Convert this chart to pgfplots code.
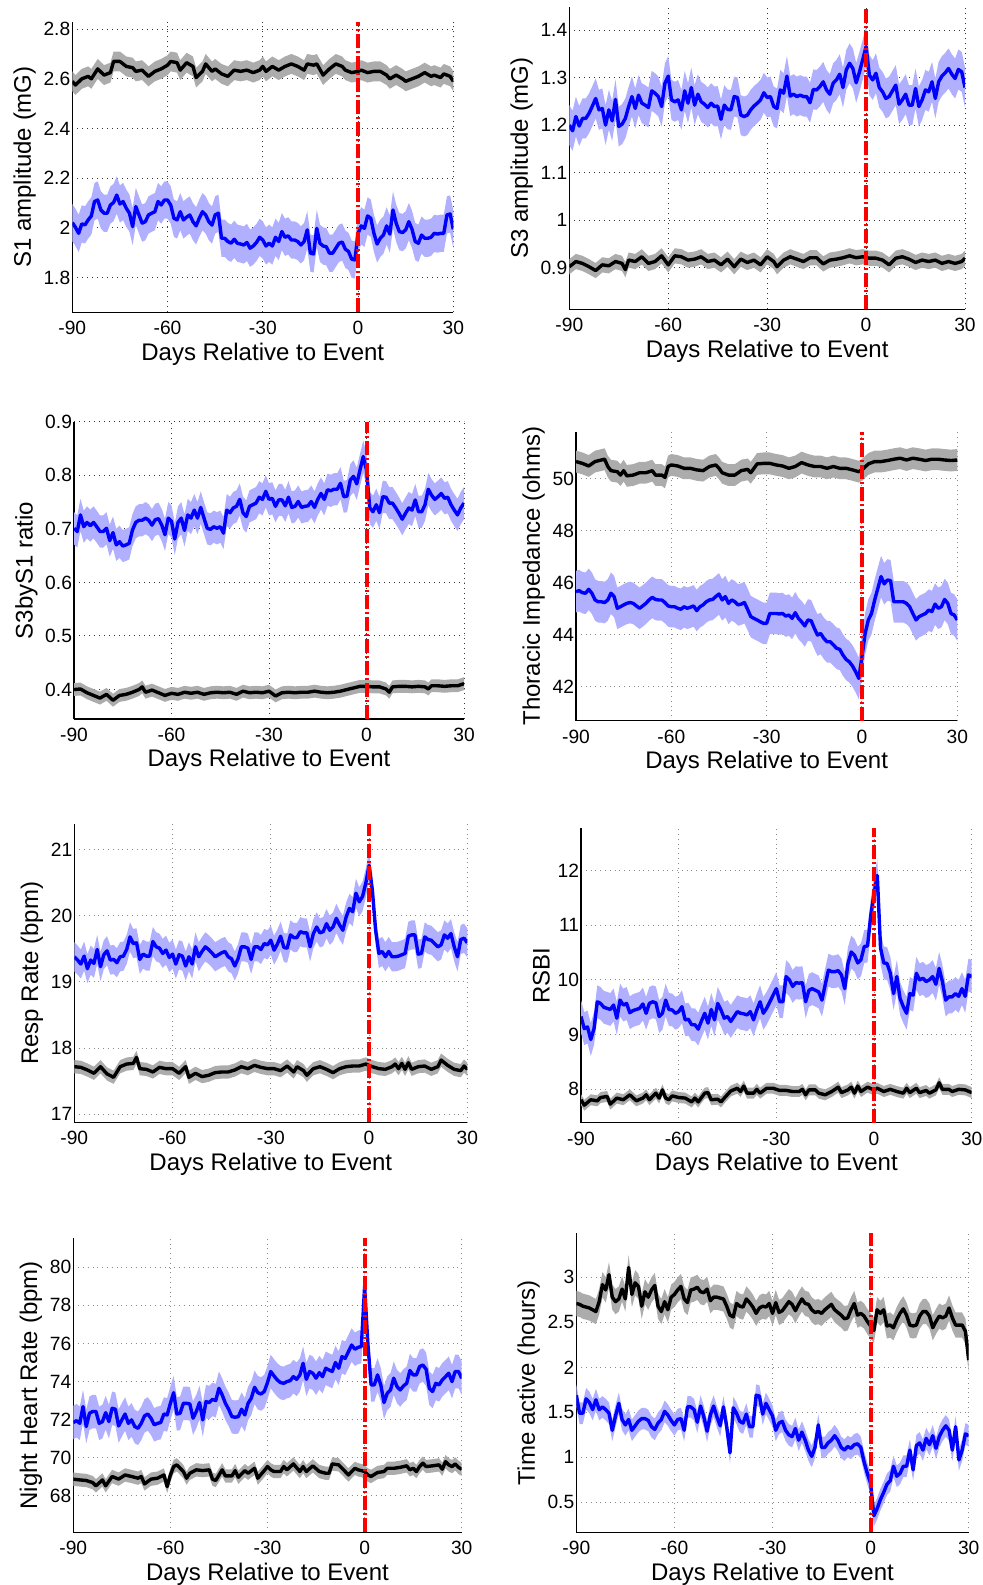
\documentclass[border=0pt]{standalone}
\usepackage{pgfplots}
\pgfplotsset{compat=1.18}
\usepackage{pgfplotstable}
\usepgfplotslibrary{fillbetween}
\usepackage{fontspec}
\setmainfont{Liberation Sans}

\definecolor{bandblue}{RGB}{176,176,255}
\definecolor{bandgray}{RGB}{172,172,172}

% S1 amplitude
\pgfplotstableread[row sep=\\]{x y\\
-90 2.59\\ -89 2.575\\ -87 2.60\\ -85 2.61\\ -84 2.60\\ -82 2.64\\ -80 2.615\\ -78 2.625\\ -77 2.67\\ -75 2.67\\
-73 2.65\\ -71 2.645\\ -70 2.63\\ -68 2.635\\ -66 2.61\\ -64 2.63\\ -62 2.64\\ -60 2.655\\ -59 2.67\\ -57 2.665\\
-56 2.635\\ -54 2.665\\ -52 2.65\\ -51 2.605\\ -49 2.63\\ -48 2.66\\ -46 2.63\\ -45 2.64\\ -43 2.62\\ -41 2.61\\
-39 2.635\\ -37 2.63\\ -35 2.635\\ -33 2.625\\ -31 2.635\\ -30 2.65\\ -29 2.63\\ -27 2.65\\ -25 2.635\\ -23 2.65\\
-21 2.66\\ -19 2.65\\ -17 2.635\\ -16 2.66\\ -14 2.655\\ -13 2.66\\ -11 2.615\\ -9 2.64\\ -7 2.66\\ -5 2.65\\
-4 2.635\\ -2 2.625\\ 0 2.63\\ 1 2.635\\ 3 2.625\\ 5 2.63\\ 7 2.63\\ 9 2.615\\ 10 2.60\\ 12 2.615\\
14 2.60\\ 15 2.59\\ 17 2.60\\ 19 2.61\\ 21 2.625\\ 23 2.61\\ 24 2.615\\ 26 2.605\\ 27 2.62\\ 29 2.61\\ 30 2.59\\
}\pAk
\pgfplotstableread[row sep=\\]{x y\\
-90 2.021\\ -89 2.002\\ -88 1.978\\ -87 2.016\\ -86 2.012\\ -85 2.032\\ -84 2.048\\ -83 2.106\\ -82 2.112\\ -81 2.072\\
-80 2.059\\ -79 2.059\\ -78 2.092\\ -77 2.102\\ -76 2.132\\ -75 2.096\\ -74 2.106\\ -73 2.079\\ -72 2.059\\ -71 2.005\\
-70 2.086\\ -69 2.052\\ -68 2.019\\ -67 2.025\\ -66 2.052\\ -65 2.059\\ -64 2.065\\ -63 2.106\\ -62 2.092\\ -61 2.112\\
-60 2.112\\ -59 2.092\\ -58 2.039\\ -57 2.032\\ -56 2.065\\ -55 2.032\\ -54 2.043\\ -53 2.052\\ -52 2.025\\ -51 2.008\\
-50 2.039\\ -49 2.065\\ -48 2.052\\ -47 2.025\\ -46 2.011\\ -45 2.052\\ -44 2.059\\ -43 1.958\\ -42 1.958\\ -41 1.945\\
-40 1.938\\ -39 1.954\\ -38 1.938\\ -37 1.935\\ -36 1.931\\ -35 1.941\\ -34 1.918\\ -33 1.927\\ -32 1.941\\ -31 1.962\\
-30 1.951\\ -29 1.927\\ -28 1.938\\ -27 1.927\\ -26 1.962\\ -25 1.945\\ -24 1.985\\ -23 1.962\\ -22 1.968\\ -21 1.951\\
-20 1.951\\ -19 1.945\\ -18 1.931\\ -17 1.945\\ -16 1.992\\ -15 1.898\\ -14 1.895\\ -13 1.998\\ -12 1.938\\ -11 1.927\\
-10 1.924\\ -9 1.898\\ -8 1.898\\ -7 1.918\\ -6 1.938\\ -5 1.943\\ -4 1.914\\ -3 1.905\\ -2 1.874\\ -1 1.871\\
0 1.978\\ 1 2.008\\ 2 1.998\\ 3 2.048\\ 4 2.039\\ 5 1.978\\ 6 1.935\\ 7 1.958\\ 8 1.971\\ 9 2.008\\
10 1.975\\ 11 2.072\\ 12 2.019\\ 13 1.985\\ 14 1.981\\ 15 1.992\\ 16 2.025\\ 17 1.994\\ 18 1.945\\ 19 1.938\\
20 1.971\\ 21 1.958\\ 22 1.958\\ 23 1.962\\ 24 1.978\\ 25 1.975\\ 26 1.978\\ 27 1.978\\ 28 2.052\\ 29 2.056\\ 30 1.994\\
}\pAb

% S3 amplitude
\pgfplotstableread[row sep=\\]{x y\\
-90 0.902\\ -88 0.913\\ -86 0.909\\ -84 0.902\\ -82 0.894\\ -80 0.906\\ -78 0.904\\ -76 0.913\\ -74 0.909\\ -73 0.896\\
-72 0.916\\ -70 0.913\\ -68 0.923\\ -66 0.909\\ -64 0.913\\ -62 0.925\\ -60 0.906\\ -58 0.925\\ -56 0.923\\ -54 0.916\\
-52 0.918\\ -50 0.923\\ -48 0.913\\ -46 0.916\\ -44 0.906\\ -42 0.918\\ -40 0.902\\ -38 0.918\\ -36 0.911\\ -34 0.916\\
-32 0.906\\ -30 0.923\\ -28 0.913\\ -27 0.902\\ -25 0.916\\ -23 0.923\\ -21 0.918\\ -19 0.913\\ -17 0.921\\ -15 0.921\\
-13 0.908\\ -11 0.916\\ -9 0.918\\ -7 0.921\\ -5 0.925\\ -3 0.921\\ -1 0.923\\ 1 0.920\\ 3 0.920\\ 5 0.916\\
7 0.906\\ 9 0.920\\ 11 0.923\\ 13 0.918\\ 15 0.911\\ 17 0.916\\ 19 0.913\\ 21 0.916\\ 23 0.909\\ 25 0.913\\
27 0.909\\ 29 0.913\\ 30 0.920\\
}\pBk
\pgfplotstableread[row sep=\\]{x y\\
-90 1.200\\ -89 1.188\\ -88 1.218\\ -87 1.198\\ -86 1.214\\ -85 1.214\\ -84 1.225\\ -83 1.240\\ -82 1.256\\ -81 1.232\\
-80 1.235\\ -79 1.200\\ -78 1.232\\ -77 1.209\\ -76 1.254\\ -75 1.197\\ -74 1.202\\ -73 1.214\\ -72 1.239\\ -71 1.260\\
-70 1.235\\ -69 1.263\\ -68 1.246\\ -67 1.242\\ -66 1.237\\ -65 1.272\\ -64 1.267\\ -63 1.260\\ -62 1.239\\ -61 1.288\\
-60 1.303\\ -59 1.253\\ -58 1.249\\ -57 1.253\\ -56 1.232\\ -55 1.272\\ -54 1.246\\ -53 1.279\\ -52 1.242\\ -51 1.265\\
-50 1.249\\ -49 1.244\\ -48 1.237\\ -47 1.246\\ -46 1.239\\ -45 1.240\\ -44 1.212\\ -43 1.242\\ -42 1.233\\ -41 1.232\\
-40 1.260\\ -39 1.258\\ -38 1.221\\ -37 1.218\\ -36 1.221\\ -35 1.232\\ -34 1.240\\ -33 1.246\\ -32 1.253\\ -31 1.268\\
-30 1.258\\ -29 1.260\\ -28 1.239\\ -27 1.235\\ -26 1.274\\ -25 1.267\\ -24 1.303\\ -23 1.261\\ -22 1.265\\ -21 1.260\\
-20 1.263\\ -19 1.260\\ -18 1.260\\ -17 1.247\\ -16 1.275\\ -15 1.274\\ -14 1.281\\ -13 1.291\\ -12 1.274\\ -11 1.265\\
-10 1.288\\ -9 1.295\\ -8 1.307\\ -7 1.279\\ -6 1.316\\ -5 1.330\\ -4 1.319\\ -3 1.289\\ -2 1.312\\ -1 1.338\\
0 1.365\\ 1 1.305\\ 2 1.295\\ 3 1.309\\ 4 1.279\\ 5 1.270\\ 6 1.256\\ 7 1.260\\ 8 1.272\\ 9 1.284\\
10 1.244\\ 11 1.253\\ 12 1.265\\ 13 1.242\\ 14 1.242\\ 15 1.277\\ 16 1.239\\ 17 1.253\\ 18 1.274\\ 19 1.270\\
20 1.291\\ 21 1.256\\ 22 1.291\\ 23 1.303\\ 24 1.310\\ 25 1.319\\ 26 1.307\\ 27 1.298\\ 28 1.317\\ 29 1.312\\ 30 1.279\\
}\pBb

% S3byS1 ratio
\pgfplotstableread[row sep=\\]{x y\\
-90 0.400\\ -88 0.401\\ -86 0.394\\ -84 0.389\\ -82 0.384\\ -80 0.391\\ -78 0.380\\ -76 0.389\\ -74 0.391\\ -72 0.395\\
-70 0.400\\ -69 0.405\\ -68 0.395\\ -66 0.399\\ -64 0.394\\ -62 0.389\\ -60 0.393\\ -58 0.391\\ -56 0.395\\ -54 0.393\\
-52 0.395\\ -50 0.391\\ -48 0.394\\ -46 0.395\\ -44 0.394\\ -42 0.395\\ -40 0.391\\ -38 0.397\\ -36 0.394\\ -34 0.395\\
-32 0.394\\ -30 0.397\\ -28 0.388\\ -26 0.394\\ -24 0.395\\ -22 0.394\\ -20 0.395\\ -18 0.395\\ -16 0.397\\ -14 0.395\\
-12 0.394\\ -10 0.395\\ -8 0.397\\ -6 0.400\\ -4 0.403\\ -2 0.406\\ 0 0.406\\ 2 0.405\\ 4 0.405\\ 6 0.401\\
7 0.395\\ 8 0.405\\ 10 0.406\\ 12 0.406\\ 14 0.405\\ 16 0.406\\ 18 0.405\\ 19 0.401\\ 20 0.407\\ 22 0.407\\
24 0.406\\ 26 0.407\\ 28 0.407\\ 29 0.409\\ 30 0.411\\
}\pCk
\pgfplotstableread[row sep=\\]{x y\\
-90 0.701\\ -89 0.695\\ -88 0.726\\ -87 0.704\\ -86 0.712\\ -85 0.706\\ -84 0.712\\ -83 0.704\\ -82 0.695\\ -81 0.695\\
-80 0.701\\ -79 0.678\\ -78 0.693\\ -77 0.670\\ -76 0.676\\ -75 0.668\\ -74 0.670\\ -73 0.673\\ -72 0.698\\ -71 0.712\\
-70 0.716\\ -69 0.716\\ -68 0.720\\ -67 0.716\\ -66 0.707\\ -65 0.717\\ -64 0.719\\ -63 0.707\\ -62 0.689\\ -61 0.720\\
-60 0.714\\ -59 0.681\\ -58 0.712\\ -57 0.720\\ -56 0.697\\ -55 0.726\\ -54 0.720\\ -53 0.735\\ -52 0.720\\ -51 0.740\\
-50 0.720\\ -49 0.701\\ -48 0.699\\ -47 0.704\\ -46 0.701\\ -45 0.704\\ -44 0.692\\ -43 0.735\\ -42 0.730\\ -41 0.739\\
-40 0.742\\ -39 0.755\\ -38 0.730\\ -37 0.723\\ -36 0.742\\ -35 0.745\\ -34 0.748\\ -33 0.759\\ -32 0.755\\ -31 0.770\\
-30 0.755\\ -29 0.757\\ -28 0.742\\ -27 0.754\\ -26 0.754\\ -25 0.743\\ -24 0.759\\ -23 0.740\\ -22 0.742\\ -21 0.751\\
-20 0.740\\ -19 0.742\\ -18 0.743\\ -17 0.751\\ -16 0.740\\ -15 0.755\\ -14 0.766\\ -13 0.755\\ -12 0.773\\ -11 0.771\\
-10 0.774\\ -9 0.774\\ -8 0.785\\ -7 0.760\\ -6 0.761\\ -5 0.791\\ -4 0.798\\ -3 0.784\\ -2 0.810\\ -1 0.835\\
0 0.810\\ 1 0.739\\ 2 0.732\\ 3 0.745\\ 4 0.730\\ 5 0.760\\ 6 0.759\\ 7 0.748\\ 8 0.748\\ 9 0.739\\
10 0.729\\ 11 0.718\\ 12 0.729\\ 13 0.739\\ 14 0.735\\ 15 0.754\\ 16 0.732\\ 17 0.732\\ 18 0.745\\ 19 0.774\\
20 0.763\\ 21 0.755\\ 22 0.760\\ 23 0.766\\ 24 0.757\\ 25 0.759\\ 26 0.745\\ 27 0.735\\ 28 0.726\\ 29 0.739\\ 30 0.748\\
}\pCb

% Thoracic impedance
\pgfplotstableread[row sep=\\]{x y\\
-90 50.67\\ -88 50.60\\ -86 50.50\\ -84 50.67\\ -82 50.73\\ -81 50.76\\ -80 50.48\\ -79 50.32\\ -77 50.28\\ -76 50.15\\
-75 50.32\\ -74 50.12\\ -72 50.15\\ -70 50.24\\ -68 50.24\\ -66 50.32\\ -65 50.15\\ -63 50.15\\ -62 50.06\\ -61 50.48\\
-60 50.54\\ -58 50.50\\ -56 50.41\\ -54 50.41\\ -52 50.35\\ -50 50.32\\ -48 50.48\\ -46 50.54\\ -45 50.41\\ -44 50.24\\
-42 50.15\\ -40 50.15\\ -38 50.32\\ -36 50.37\\ -35 50.24\\ -33 50.58\\ -31 50.60\\ -29 50.60\\ -27 50.54\\ -25 50.50\\
-23 50.41\\ -21 50.48\\ -19 50.63\\ -17 50.54\\ -15 50.48\\ -13 50.48\\ -11 50.41\\ -9 50.48\\ -7 50.41\\ -5 50.41\\
-3 50.35\\ -1 50.28\\ 0 50.35\\ 2 50.58\\ 4 50.67\\ 6 50.67\\ 8 50.71\\ 10 50.76\\ 12 50.80\\ 14 50.73\\
16 50.80\\ 18 50.76\\ 20 50.71\\ 22 50.76\\ 24 50.76\\ 26 50.73\\ 28 50.71\\ 30 50.73\\
}\pDk
\pgfplotstableread[row sep=\\]{x y\\
-90 45.66\\ -89 45.70\\ -88 45.62\\ -87 45.60\\ -86 45.75\\ -85 45.60\\ -84 45.34\\ -83 45.27\\ -82 45.27\\ -81 45.24\\
-80 45.34\\ -79 45.60\\ -78 45.47\\ -77 45.02\\ -76 45.08\\ -75 45.15\\ -74 45.21\\ -73 45.24\\ -72 45.21\\ -71 45.11\\
-70 45.02\\ -69 45.11\\ -68 45.21\\ -67 45.34\\ -66 45.44\\ -65 45.36\\ -64 45.34\\ -63 45.34\\ -62 45.24\\ -61 45.11\\
-60 45.08\\ -59 45.08\\ -58 45.02\\ -57 44.98\\ -56 45.08\\ -55 45.02\\ -54 45.06\\ -53 45.11\\ -52 44.93\\ -51 45.08\\
-50 45.15\\ -49 45.27\\ -48 45.34\\ -47 45.36\\ -46 45.47\\ -45 45.57\\ -44 45.34\\ -43 45.47\\ -42 45.21\\ -41 45.34\\
-40 45.27\\ -39 45.15\\ -38 45.18\\ -37 45.24\\ -36 44.98\\ -35 44.70\\ -34 44.63\\ -33 44.57\\ -32 44.50\\ -31 44.44\\
-30 44.44\\ -29 44.82\\ -28 44.82\\ -27 44.82\\ -26 44.80\\ -25 44.82\\ -24 44.72\\ -23 44.76\\ -22 44.63\\ -21 44.85\\
-20 44.63\\ -19 44.50\\ -18 44.34\\ -17 44.57\\ -16 44.54\\ -15 44.25\\ -14 43.99\\ -13 44.05\\ -12 43.86\\ -11 43.73\\
-10 43.73\\ -9 43.61\\ -8 43.48\\ -7 43.44\\ -6 43.22\\ -5 43.05\\ -4 42.96\\ -3 42.80\\ -2 42.58\\ -1 42.32\\
0 43.16\\ 1 44.05\\ 2 44.57\\ 3 44.82\\ 4 45.34\\ 5 45.79\\ 6 46.24\\ 7 45.96\\ 8 46.11\\ 9 46.08\\
10 45.27\\ 11 45.27\\ 12 45.27\\ 13 45.27\\ 14 45.21\\ 15 45.08\\ 16 44.82\\ 17 44.57\\ 18 44.70\\ 19 44.76\\
20 44.82\\ 21 44.95\\ 22 44.89\\ 23 45.18\\ 24 45.02\\ 25 45.08\\ 26 45.36\\ 27 45.21\\ 28 44.82\\ 29 44.76\\ 30 44.57\\
}\pDb

% Resp rate
\pgfplotstableread[row sep=\\]{x y\\
-90 17.72\\ -88 17.71\\ -86 17.67\\ -84 17.62\\ -82 17.72\\ -80 17.61\\ -78 17.56\\ -76 17.72\\ -74 17.76\\ -72 17.77\\
-71 17.86\\ -70 17.69\\ -68 17.68\\ -66 17.64\\ -64 17.71\\ -62 17.69\\ -60 17.69\\ -58 17.62\\ -56 17.72\\ -55 17.56\\
-53 17.62\\ -51 17.57\\ -49 17.59\\ -47 17.63\\ -45 17.64\\ -43 17.64\\ -41 17.67\\ -39 17.72\\ -37 17.69\\ -35 17.74\\
-33 17.71\\ -31 17.69\\ -29 17.69\\ -27 17.66\\ -25 17.73\\ -23 17.64\\ -22 17.72\\ -20 17.66\\ -19 17.59\\ -17 17.69\\
-15 17.72\\ -13 17.68\\ -11 17.63\\ -9 17.69\\ -7 17.72\\ -5 17.73\\ -3 17.73\\ -1 17.76\\ 1 17.72\\ 3 17.69\\
5 17.68\\ 7 17.72\\ 8 17.76\\ 9 17.69\\ 10 17.77\\ 11 17.68\\ 12 17.78\\ 13 17.68\\ 15 17.72\\ 17 17.73\\
19 17.68\\ 21 17.72\\ 22 17.82\\ 24 17.74\\ 26 17.68\\ 28 17.66\\ 29 17.73\\ 30 17.68\\
}\pEk
\pgfplotstableread[row sep=\\]{x y\\
-90 19.38\\ -89 19.33\\ -88 19.27\\ -87 19.39\\ -86 19.20\\ -85 19.33\\ -84 19.28\\ -83 19.49\\ -82 19.23\\ -81 19.41\\
-80 19.47\\ -79 19.33\\ -78 19.34\\ -77 19.29\\ -76 19.38\\ -75 19.39\\ -74 19.49\\ -73 19.68\\ -72 19.58\\ -71 19.59\\
-70 19.34\\ -69 19.42\\ -68 19.39\\ -67 19.39\\ -66 19.61\\ -65 19.53\\ -64 19.51\\ -63 19.43\\ -62 19.48\\ -61 19.37\\
-60 19.42\\ -59 19.27\\ -58 19.41\\ -57 19.39\\ -56 19.24\\ -55 19.38\\ -54 19.27\\ -53 19.53\\ -52 19.38\\ -51 19.46\\
-50 19.53\\ -49 19.49\\ -48 19.44\\ -47 19.38\\ -46 19.41\\ -45 19.44\\ -44 19.46\\ -43 19.38\\ -42 19.35\\ -41 19.24\\
-40 19.35\\ -39 19.53\\ -38 19.53\\ -37 19.51\\ -36 19.34\\ -35 19.53\\ -34 19.53\\ -33 19.49\\ -32 19.58\\ -31 19.56\\
-30 19.63\\ -29 19.48\\ -28 19.57\\ -27 19.69\\ -26 19.52\\ -25 19.51\\ -24 19.71\\ -23 19.67\\ -22 19.67\\ -21 19.76\\
-20 19.74\\ -19 19.74\\ -18 19.53\\ -17 19.73\\ -16 19.83\\ -15 19.74\\ -14 19.76\\ -13 19.88\\ -12 19.78\\ -11 19.83\\
-10 19.96\\ -9 19.86\\ -8 19.78\\ -7 19.98\\ -6 20.11\\ -5 20.06\\ -4 20.34\\ -3 20.21\\ -2 20.29\\ -1 20.49\\
0 20.76\\ 1 20.39\\ 2 19.78\\ 3 19.43\\ 4 19.46\\ 5 19.38\\ 6 19.46\\ 7 19.38\\ 8 19.38\\ 9 19.39\\
10 19.41\\ 11 19.43\\ 12 19.69\\ 13 19.71\\ 14 19.71\\ 15 19.42\\ 16 19.43\\ 17 19.68\\ 18 19.64\\ 19 19.63\\
20 19.58\\ 21 19.53\\ 22 19.56\\ 23 19.71\\ 24 19.66\\ 25 19.73\\ 26 19.53\\ 27 19.38\\ 28 19.64\\ 29 19.66\\ 30 19.59\\
}\pEb

% RSBI
\pgfplotstableread[row sep=\\]{x y\\
-90 7.81\\ -89 7.71\\ -87 7.81\\ -85 7.79\\ -84 7.85\\ -82 7.87\\ -81 7.73\\ -79 7.84\\ -77 7.81\\ -75 7.90\\
-73 7.79\\ -71 7.84\\ -70 7.90\\ -69 7.81\\ -67 7.93\\ -66 7.84\\ -65 7.99\\ -64 7.84\\ -63 7.81\\ -62 7.88\\
-60 7.85\\ -58 7.84\\ -56 7.77\\ -55 7.84\\ -54 7.77\\ -52 7.93\\ -51 7.94\\ -50 7.81\\ -48 7.82\\ -47 7.77\\
-46 7.84\\ -44 7.97\\ -42 8.02\\ -41 7.96\\ -40 8.06\\ -39 7.93\\ -37 7.93\\ -36 8.00\\ -35 7.93\\ -33 8.02\\
-31 8.02\\ -29 7.98\\ -27 7.98\\ -25 7.96\\ -23 7.96\\ -22 8.00\\ -21 7.90\\ -20 7.99\\ -18 7.99\\ -17 7.93\\
-15 7.90\\ -13 7.96\\ -11 8.04\\ -10 7.94\\ -8 7.99\\ -7 8.04\\ -6 7.93\\ -5 8.06\\ -4 7.96\\ -2 8.04\\
0 7.99\\ 1 8.02\\ 3 7.96\\ 5 8.00\\ 7 7.96\\ 9 7.93\\ 10 8.02\\ 11 7.94\\ 13 8.02\\ 14 7.94\\
16 7.98\\ 17 7.93\\ 19 7.99\\ 20 8.12\\ 21 8.00\\ 23 8.00\\ 24 7.96\\ 26 8.00\\ 28 7.99\\ 30 7.94\\
}\pFk
\pgfplotstableread[row sep=\\]{x y\\
-90 9.33\\ -89 9.11\\ -88 9.14\\ -87 8.91\\ -86 9.11\\ -85 9.60\\ -84 9.57\\ -83 9.50\\ -82 9.48\\ -81 9.46\\
-80 9.54\\ -79 9.30\\ -78 9.63\\ -77 9.54\\ -76 9.57\\ -75 9.40\\ -74 9.44\\ -73 9.46\\ -72 9.48\\ -71 9.56\\
-70 9.39\\ -69 9.57\\ -68 9.60\\ -67 9.58\\ -66 9.33\\ -65 9.39\\ -64 9.63\\ -63 9.46\\ -62 9.45\\ -61 9.39\\
-60 9.42\\ -59 9.51\\ -58 9.27\\ -57 9.28\\ -56 9.18\\ -55 9.18\\ -54 9.10\\ -53 9.25\\ -52 9.39\\ -51 9.21\\
-50 9.46\\ -49 9.27\\ -48 9.57\\ -47 9.45\\ -46 9.30\\ -45 9.33\\ -44 9.24\\ -43 9.33\\ -42 9.42\\ -41 9.39\\
-40 9.38\\ -39 9.36\\ -38 9.42\\ -37 9.27\\ -36 9.45\\ -35 9.60\\ -34 9.39\\ -33 9.48\\ -32 9.60\\ -31 9.72\\
-30 9.84\\ -29 9.60\\ -28 9.60\\ -27 10.06\\ -26 10.00\\ -25 9.88\\ -24 9.95\\ -23 9.94\\ -22 9.95\\ -21 9.60\\
-20 9.81\\ -19 9.84\\ -18 9.81\\ -17 9.78\\ -16 9.63\\ -15 9.91\\ -14 10.18\\ -13 10.15\\ -12 10.15\\ -11 10.17\\
-10 10.09\\ -9 9.84\\ -8 10.30\\ -7 10.51\\ -6 10.45\\ -5 10.31\\ -4 10.37\\ -3 10.61\\ -2 10.62\\ -1 11.18\\
0 11.58\\ 1 11.91\\ 2 10.58\\ 3 10.31\\ 4 10.30\\ 5 10.12\\ 6 9.75\\ 7 10.06\\ 8 9.66\\ 9 9.51\\
10 9.39\\ 11 9.75\\ 12 9.72\\ 13 10.12\\ 14 10.00\\ 15 10.03\\ 16 9.97\\ 17 10.00\\ 18 10.06\\ 19 9.92\\
20 10.21\\ 21 9.97\\ 22 9.63\\ 23 9.69\\ 24 9.69\\ 25 9.75\\ 26 9.70\\ 27 9.84\\ 28 9.70\\ 29 10.09\\ 30 10.06\\
}\pFb

% Night heart rate
\pgfplotstableread[row sep=\\]{x y\\
-90 68.88\\ -88 68.84\\ -86 68.81\\ -84 68.70\\ -83 68.53\\ -81 68.84\\ -80 68.53\\ -78 69.02\\ -76 68.88\\ -74 69.10\\
-72 69.02\\ -70 68.93\\ -69 69.02\\ -68 68.63\\ -66 68.88\\ -64 68.93\\ -62 69.10\\ -61 68.49\\ -60 69.10\\ -59 69.54\\
-58 69.63\\ -56 69.28\\ -55 68.93\\ -54 69.19\\ -52 69.37\\ -50 69.33\\ -48 69.37\\ -47 68.88\\ -46 68.81\\ -44 69.37\\
-43 69.05\\ -41 69.05\\ -40 69.33\\ -39 68.98\\ -37 69.33\\ -36 69.19\\ -34 69.45\\ -33 68.93\\ -31 69.33\\ -30 69.54\\
-29 69.37\\ -28 69.28\\ -26 69.28\\ -25 69.54\\ -24 69.37\\ -22 69.68\\ -20 69.28\\ -19 69.54\\ -18 69.28\\ -16 69.58\\
-14 69.28\\ -12 69.19\\ -11 69.19\\ -10 69.68\\ -8 69.63\\ -6 69.28\\ -5 69.10\\ -3 69.45\\ -2 69.37\\ -1 69.33\\
0 69.28\\ 1 69.10\\ 2 69.02\\ 4 69.23\\ 6 69.28\\ 7 69.45\\ 9 69.45\\ 11 69.50\\ 13 69.58\\ 14 69.37\\
15 69.45\\ 16 69.28\\ 17 69.54\\ 18 69.72\\ 19 69.54\\ 21 69.58\\ 23 69.63\\ 24 69.40\\ 25 69.80\\ 26 69.63\\
27 69.54\\ 28 69.68\\ 29 69.50\\ 30 69.40\\
}\pGk
\pgfplotstableread[row sep=\\]{x y\\
-90 71.85\\ -89 71.95\\ -88 71.81\\ -87 72.69\\ -86 71.64\\ -85 72.34\\ -84 72.43\\ -83 72.43\\ -82 71.81\\ -81 71.90\\
-80 72.37\\ -79 71.90\\ -78 72.60\\ -77 72.55\\ -76 71.67\\ -75 71.99\\ -74 72.30\\ -73 71.81\\ -72 71.99\\ -71 71.64\\
-70 71.55\\ -69 71.81\\ -68 72.20\\ -67 72.30\\ -66 72.08\\ -65 71.73\\ -64 71.81\\ -63 71.85\\ -62 72.30\\ -61 72.25\\
-60 72.86\\ -59 73.42\\ -58 72.30\\ -57 72.34\\ -56 72.86\\ -55 72.86\\ -54 72.83\\ -53 72.08\\ -52 72.43\\ -51 72.90\\
-50 71.99\\ -49 72.95\\ -48 72.90\\ -47 73.07\\ -46 73.00\\ -45 73.65\\ -44 73.30\\ -43 72.86\\ -42 72.55\\ -41 72.16\\
-40 72.13\\ -39 72.16\\ -38 72.55\\ -37 72.25\\ -36 72.86\\ -35 73.13\\ -34 73.70\\ -33 73.42\\ -32 73.35\\ -31 73.48\\
-30 73.95\\ -29 74.53\\ -28 74.30\\ -27 74.09\\ -26 73.95\\ -25 73.91\\ -24 74.00\\ -23 74.05\\ -22 74.26\\ -21 74.12\\
-20 74.35\\ -19 74.96\\ -18 74.12\\ -17 74.53\\ -16 74.44\\ -15 74.18\\ -14 74.47\\ -13 74.26\\ -12 74.70\\ -11 74.61\\
-10 74.53\\ -9 75.00\\ -8 74.70\\ -7 75.31\\ -6 75.22\\ -5 75.57\\ -4 75.92\\ -3 75.70\\ -2 75.80\\ -1 75.84\\
0 78.99\\ 1 76.01\\ 2 73.83\\ 3 73.83\\ 4 74.35\\ 5 73.83\\ 6 72.90\\ 7 73.39\\ 8 73.56\\ 9 74.18\\
10 73.74\\ 11 73.56\\ 12 73.77\\ 13 73.91\\ 14 74.58\\ 15 74.35\\ 16 74.35\\ 17 74.79\\ 18 74.87\\ 19 74.65\\
20 73.65\\ 21 73.48\\ 22 73.91\\ 23 73.83\\ 24 74.09\\ 25 74.26\\ 26 74.44\\ 27 74.00\\ 28 74.53\\ 29 74.53\\ 30 74.18\\
}\pGb

% Time active
\pgfplotstableread[row sep=\\]{x y\\
-90 2.71\\ -89 2.70\\ -88 2.68\\ -86 2.66\\ -84 2.62\\ -83 2.73\\ -82 2.92\\ -81 2.86\\ -80 3.03\\ -79 2.78\\
-78 2.73\\ -77 2.76\\ -76 2.87\\ -75 2.76\\ -74 3.11\\ -73 2.81\\ -72 2.94\\ -71 2.90\\ -70 2.68\\ -69 2.84\\
-68 2.78\\ -67 2.86\\ -66 2.91\\ -65 2.68\\ -64 2.62\\ -63 2.73\\ -62 2.64\\ -61 2.78\\ -60 2.81\\ -59 2.86\\
-58 2.90\\ -57 2.76\\ -56 2.72\\ -55 2.86\\ -54 2.87\\ -53 2.89\\ -52 2.84\\ -51 2.83\\ -50 2.87\\ -49 2.74\\
-48 2.78\\ -47 2.78\\ -46 2.77\\ -45 2.76\\ -44 2.68\\ -43 2.58\\ -42 2.56\\ -41 2.71\\ -40 2.68\\ -39 2.67\\
-38 2.76\\ -37 2.72\\ -36 2.67\\ -35 2.60\\ -34 2.66\\ -33 2.68\\ -32 2.67\\ -31 2.71\\ -30 2.60\\ -29 2.72\\
-28 2.61\\ -27 2.63\\ -26 2.68\\ -25 2.73\\ -24 2.70\\ -23 2.63\\ -22 2.70\\ -21 2.76\\ -20 2.71\\ -19 2.70\\
-18 2.64\\ -17 2.61\\ -16 2.62\\ -15 2.60\\ -14 2.64\\ -13 2.67\\ -12 2.70\\ -11 2.64\\ -10 2.61\\ -9 2.58\\
-8 2.54\\ -7 2.55\\ -6 2.64\\ -5 2.71\\ -4 2.58\\ -3 2.60\\ -2 2.57\\ -1 2.51\\ 0 2.46\\ 1 2.41\\
2 2.64\\ 3 2.60\\ 4 2.64\\ 5 2.46\\ 6 2.47\\ 7 2.44\\ 8 2.53\\ 9 2.60\\ 10 2.65\\ 11 2.58\\
12 2.47\\ 13 2.46\\ 14 2.47\\ 15 2.57\\ 16 2.62\\ 17 2.62\\ 18 2.57\\ 19 2.44\\ 20 2.51\\ 21 2.57\\
22 2.55\\ 23 2.57\\ 24 2.66\\ 25 2.55\\ 26 2.47\\ 27 2.47\\ 28 2.47\\ 29 2.40\\ 30 2.08\\
}\pHk
\pgfplotstableread[row sep=\\]{x y\\
-90 1.69\\ -89 1.49\\ -88 1.49\\ -87 1.65\\ -86 1.61\\ -85 1.53\\ -84 1.64\\ -83 1.53\\ -82 1.56\\ -81 1.53\\
-80 1.49\\ -79 1.30\\ -78 1.46\\ -77 1.60\\ -76 1.42\\ -75 1.36\\ -74 1.42\\ -73 1.30\\ -72 1.35\\ -71 1.40\\
-70 1.43\\ -69 1.43\\ -68 1.41\\ -67 1.34\\ -66 1.31\\ -65 1.38\\ -64 1.42\\ -63 1.51\\ -62 1.47\\ -61 1.41\\
-60 1.36\\ -59 1.42\\ -58 1.43\\ -57 1.30\\ -56 1.56\\ -55 1.56\\ -54 1.53\\ -53 1.39\\ -52 1.57\\ -51 1.45\\
-50 1.29\\ -49 1.47\\ -48 1.57\\ -47 1.45\\ -46 1.35\\ -45 1.56\\ -44 1.34\\ -43 1.05\\ -42 1.55\\ -41 1.49\\
-40 1.40\\ -39 1.38\\ -38 1.48\\ -37 1.34\\ -36 1.34\\ -35 1.69\\ -34 1.68\\ -33 1.48\\ -32 1.60\\ -31 1.53\\
-30 1.46\\ -29 1.30\\ -28 1.38\\ -27 1.40\\ -26 1.30\\ -25 1.25\\ -24 1.23\\ -23 1.32\\ -22 1.19\\ -21 1.28\\
-20 1.19\\ -19 1.08\\ -18 1.01\\ -17 1.11\\ -16 1.36\\ -15 1.11\\ -14 1.11\\ -13 1.16\\ -12 1.19\\ -11 1.24\\
-10 1.19\\ -9 1.11\\ -8 1.08\\ -7 1.12\\ -6 1.10\\ -5 1.14\\ -4 1.15\\ -3 1.11\\ -2 0.95\\ -1 0.82\\
0 0.71\\ 1 0.35\\ 2 0.43\\ 3 0.53\\ 4 0.61\\ 5 0.70\\ 6 0.74\\ 7 0.90\\ 8 0.79\\ 9 0.82\\
10 0.90\\ 11 0.90\\ 12 1.08\\ 13 0.86\\ 14 1.13\\ 15 1.16\\ 16 1.08\\ 17 1.21\\ 18 1.14\\ 19 1.24\\
20 1.10\\ 21 1.23\\ 22 1.30\\ 23 1.35\\ 24 1.30\\ 25 1.08\\ 26 1.34\\ 27 0.97\\ 28 1.08\\ 29 1.26\\ 30 1.24\\
}\pHb

% band: table, half width, colour, path name
\newcommand{\band}[4]{%
  \addplot[draw=none, name path=#4u, forget plot] table[x=x, y expr=\thisrow{y}+#2]{#1};
  \addplot[draw=none, name path=#4l, forget plot] table[x=x, y expr=\thisrow{y}-#2]{#1};
  \addplot[fill=#3, draw=none, forget plot] fill between[of=#4u and #4l];
}

\pgfplotsset{
  pan/.style={
    scale only axis, anchor=south west,
    xmin=-90, xmax=30, xtick={-90,-60,-30,0,30},
    axis lines*=left, axis line style={-, line width=0.65pt},
    xmajorgrids, ymajorgrids,
    grid style={dotted, line width=0.5pt, black!45},
    major tick style={draw=none},
    tick label style={font=\fontsize{9.6}{10}\selectfont},
    xticklabel style={yshift=-1pt},
    yticklabel style={xshift=2.5pt},
    label style={font=\fontsize{12}{14}\selectfont},
    xlabel={Days Relative to Event},
    xlabel style={yshift=3pt},
    ylabel style={yshift=-3pt},
    /pgf/number format/assume math mode=true,
  },
  kline/.style={black, line width=1.7pt, line join=round},
  bline/.style={blue, line width=1.7pt, line join=round},
  ev/.style={red, line width=2pt, dash pattern=on 7pt off 1.5pt on 1pt off 1.5pt},
}

\begin{document}
\begin{tikzpicture}

\begin{axis}[pan, at={(36.15pt,-156.15pt)}, width=190.5pt, height=145.3pt,
  ymin=1.66, ymax=2.83, ytick={1.8,2,2.2,2.4,2.6,2.8},
  ylabel={S1 amplitude (mG)}, grid style={dotted, line width=0.5pt, black!80}]
\band{\pAk}{0.04}{bandgray}{a}
\band{\pAb}{0.075}{bandblue}{b}
\addplot[kline] table[x=x,y=y]{\pAk};
\addplot[bline] table[x=x,y=y]{\pAb};
\addplot[ev] coordinates {(0,1.66) (0,2.83)};
\end{axis}

\begin{axis}[pan, at={(284.65pt,-154.65pt)}, width=197.85pt, height=151.3pt,
  ymin=0.8125, ymax=1.449, ytick={0.9,1,1.1,1.2,1.3,1.4},
  ylabel={S3 amplitude (mG)}, grid style={dotted, line width=0.5pt, black!80}]
\band{\pBk}{0.016}{bandgray}{a}
\band{\pBb}{0.042}{bandblue}{b}
\addplot[kline] table[x=x,y=y]{\pBk};
\addplot[bline] table[x=x,y=y]{\pBb};
\addplot[ev] coordinates {(0,0.8125) (0,1.449)};
\end{axis}

\begin{axis}[pan, at={(37pt,-359.5pt)}, width=195pt, height=148.65pt,
  ymin=0.345, ymax=0.9, ytick={0.4,0.5,0.6,0.7,0.8,0.9},
  ylabel={S3byS1 ratio}, grid style={dotted, line width=0.5pt, black!80}]
\band{\pCk}{0.012}{bandgray}{a}
\band{\pCb}{0.03}{bandblue}{b}
\addplot[kline] table[x=x,y=y]{\pCk};
\addplot[bline] table[x=x,y=y]{\pCb};
\addplot[ev] coordinates {(0,0.345) (0,0.9)};
\end{axis}

\begin{axis}[pan, at={(288pt,-360.35pt)}, width=190.65pt, height=144.5pt,
  ymin=40.69, ymax=51.82, ytick={42,44,46,48,50},
  ylabel={Thoracic Impedance (ohms)}]
\band{\pDk}{0.42}{bandgray}{a}
\band{\pDb}{0.8}{bandblue}{b}
\addplot[kline] table[x=x,y=y]{\pDk};
\addplot[bline] table[x=x,y=y]{\pDb};
\addplot[ev] coordinates {(0,40.69) (0,51.82)};
\end{axis}

\begin{axis}[pan, at={(37.15pt,-561.15pt)}, width=196.5pt, height=149pt,
  ymin=16.88, ymax=21.38, ytick={17,18,19,20,21},
  ylabel={Resp Rate (bpm)}]
\band{\pEk}{0.1}{bandgray}{a}
\band{\pEb}{0.22}{bandblue}{b}
\addplot[kline] table[x=x,y=y]{\pEk};
\addplot[bline] table[x=x,y=y]{\pEb};
\addplot[ev] coordinates {(0,16.88) (0,21.38)};
\end{axis}

\begin{axis}[pan, at={(290.5pt,-561.35pt)}, width=195.35pt, height=147.2pt,
  ymin=7.39, ymax=12.77, ytick={8,9,10,11,12},
  ylabel={RSBI}]
\band{\pFk}{0.1}{bandgray}{a}
\band{\pFb}{0.3}{bandblue}{b}
\addplot[kline] table[x=x,y=y]{\pFk};
\addplot[bline] table[x=x,y=y]{\pFb};
\addplot[ev] coordinates {(0,7.39) (0,12.77)};
\end{axis}

\begin{axis}[pan, at={(36.65pt,-766.15pt)}, width=194.2pt, height=147pt,
  ymin=66.09, ymax=81.52, ytick={68,70,72,74,76,78,80},
  ylabel={Night Heart Rate (bpm)}]
\band{\pGk}{0.35}{bandgray}{a}
\band{\pGb}{0.88}{bandblue}{b}
\addplot[kline] table[x=x,y=y]{\pGk};
\addplot[bline] table[x=x,y=y]{\pGb};
\addplot[ev] coordinates {(0,66.09) (0,81.52)};
\end{axis}

\begin{axis}[pan, at={(288.15pt,-766.15pt)}, width=196.2pt, height=149.5pt,
  ymin=0.166, ymax=3.49, ytick={0.5,1,1.5,2,2.5,3},
  ylabel={Time active (hours)}]
\band{\pHk}{0.14}{bandgray}{a}
\band{\pHb}{0.12}{bandblue}{b}
\addplot[kline] table[x=x,y=y]{\pHk};
\addplot[bline] table[x=x,y=y]{\pHb};
\addplot[ev] coordinates {(0,0.166) (0,3.49)};
\end{axis}

\pgfresetboundingbox
\useasboundingbox (0pt,0pt) rectangle (491.5pt,-792.5pt);
\end{tikzpicture}
\end{document}
